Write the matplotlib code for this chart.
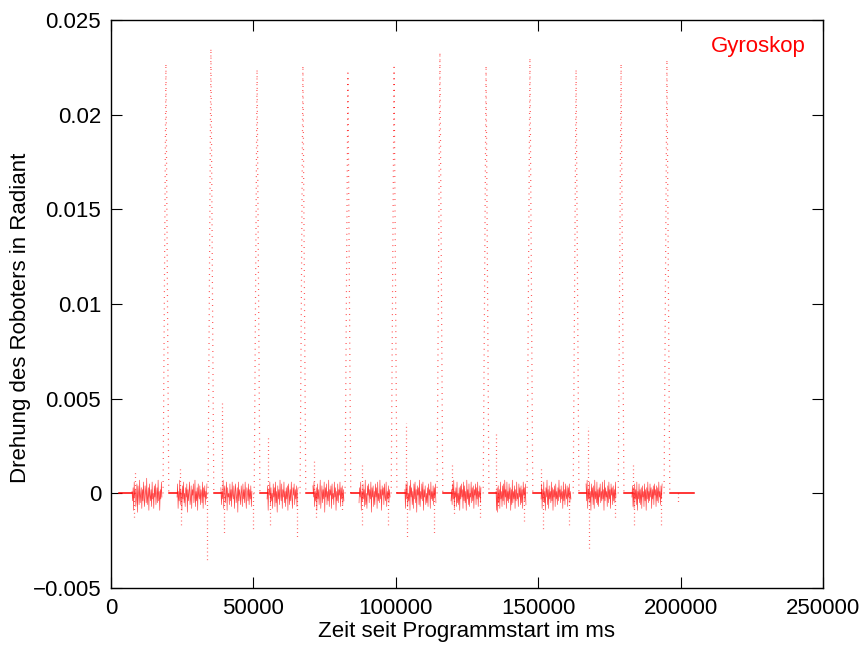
import numpy as np
import matplotlib.pyplot as plt

plt.rcParams['font.family'] = ['Liberation Sans', 'DejaVu Sans']

# grosse Drehungen: Zeitpunkt (ms) und Hoehe (rad)
spike_t = [19300, 35100, 51300, 67400, 83200, 99400, 115500, 131700, 147100, 163300, 179100, 195200]
spike_peak = [0.0227, 0.0235, 0.0224, 0.0226, 0.0222, 0.0225, 0.0233, 0.0226, 0.0230, 0.0224, 0.0227, 0.0229]
spike_half = 1000

# Abschnitte mit Rauschen (ms)
noise_start = [7400, 23200, 38600, 54800, 70900, 87100, 103200, 119400, 135200, 151000, 166800, 182900]
noise_end = [17900, 33700, 49500, 65700, 81800, 98000, 114100, 129900, 145700, 161500, 177300, 193500]
run_start = 2800
run_end = 204700

# Rauschwerte in 1e-4 rad
noise_0 = [1, -4, 3, -9, 6, -2, 2, -7, -3, 5, -10, 4, 0, -6, 7, -5, -1, 3, -8, 2, -4, 6, -3, -7, 4, 1, -5, 8,
           -6, -2, 3, -9, 5, -1, -4, 2, -7, 6, -3, 0, -8, 4, -2, 5, -6, -1, 3, -5, 7, -4, 1, -9, 2, -3, 6, -2]
noise_1 = [-2, 5, -8, 1, -4, 7, -6, 2, -1, -9, 4, -3, 6, -5, 0, -7, 3, -2, 5, -10, 2, -4, 1, 6, -6, -3, 4, -8,
           2, -1, 5, -5, -2, 7, -7, 1, -4, 3, -9, 5, -1, -3, 4, -6, 2, 0, -5, 6, -8, 3, -2, 4, -6, 1, -3, 5]
noise_2 = [3, -6, 1, -3, 7, -8, 2, 4, -5, -1, 6, -9, 3, -2, 0, -6, 5, -4, 2, -7, 6, -1, -3, 4, -8, 1, 5, -5,
           -2, 3, -10, 6, -4, 2, -1, -6, 4, 0, -7, 5, -3, 2, -5, 6, -2, -8, 3, 1, -4, 5, -6, 2, -3, 4, -7, 1]
noise_3 = [-3, 4, -9, 2, -1, 6, -6, 3, -4, 0, -8, 5, -2, 3, -7, 6, -5, 1, -10, 4, -3, 2, -6, 7, -1, -4, 5, -8,
           2, -2, 6, -5, 1, -7, 3, -3, 4, -9, 5, 0, -6, 2, -4, 6, -2, -8, 3, -1, 5, -6, 2, -3, 4, -7, 1, 3]
noise_4 = [4, -2, 6, -7, 1, -4, 3, -9, 5, -3, 2, -6, 0, 7, -8, -1, 4, -5, 2, -3, 6, -10, 3, -2, 5, -6, 1, -4,
           7, -7, 2, -1, 4, -8, 5, -3, 0, -6, 6, -2, 3, -9, 1, -4, 5, -5, 2, -1, 6, -7, 3, -3, 4, -6, 2, -4]
noise_5 = [-5, 3, -2, 6, -9, 1, -4, 5, -3, 2, -7, 7, -6, 0, -8, 4, -1, 5, -5, 2, -3, 6, -10, 3, -2, 4, -7, 1,
           -6, 5, -2, 3, -8, 6, -4, 0, -5, 7, -3, 2, -9, 4, -1, 3, -6, 5, -2, -4, 6, -7, 1, -3, 4, -5, 2, -2]
noise_6 = [2, -8, 5, -3, 6, -7, 0, -4, 4, -9, 7, -2, 3, -6, 1, -8, 5, -3, 6, -5, 2, -10, 4, -1, 3, -6, 7, -7,
           1, -3, 5, -4, 6, -9, 2, -2, 4, -6, 0, -5, 3, -7, 5, -1, 2, -8, 6, -3, 1, -4, 4, -6, 3, -2, 5, -5]
noise_7 = [-4, 2, -6, 5, -3, 7, -8, 1, -2, 3, -7, 6, -5, 0, -6, 3, -9, 4, -3, 5, -2, 2, -8, 6, -4, 4, -5, 1,
           -9, 7, -3, 2, -6, 5, -7, 0, -2, 6, -5, 3, -4, 4, -8, 2, -1, 5, -6, 3, -3, 6, -7, 1, -2, 4, -5, 3]
noise_8 = [1, -9, 3, -10, 4, -5, 2, -8, 6, -3, 1, -7, 4, -4, 5, -6, 7, -2, 2, -8, 6, -4, 1, -5, 5, -3, 3, -9,
           2, -6, 7, -5, 1, -3, 4, -8, 2, -4, 6, -3, 0, -7, 5, -2, 3, -6, 4, -5, 2, -8, 6, -1, 3, -4, 5, -6]
noise_9 = [-3, 5, -8, 2, -4, 6, -5, 1, -9, 3, -2, 7, -6, 2, -8, 4, -3, 1, -5, 6, -4, 3, -9, 2, -2, 4, -7, 5,
           -3, 1, -6, 3, -4, 7, -2, 2, -5, 4, -3, 1, -8, 6, -4, 2, -6, 5, -1, -3, 4, -7, 3, -2, 5, -5, 1, -3]
noise_10 = [5, -4, 7, -8, 2, -3, 6, -5, 1, -9, 5, -2, 3, -6, 4, -8, 7, -3, 1, -5, 6, -6, 2, -7, 3, -2, 5, -5,
            1, -4, 6, -3, 2, -9, 7, -4, 3, -2, 1, -7, 4, -5, 6, -3, 2, -8, 5, -1, 3, -6, 4, -4, 2, -5, 6, -2]
noise_11 = [-2, 4, -7, 3, -8, 5, -3, 2, -6, 6, -9, 1, -3, 5, -5, 2, -6, 3, -8, 4, -2, 1, -7, 5, -4, 2, -9, 3,
            -3, 6, -5, 1, -4, 5, -2, 3, -8, 2, -3, 4, -6, 5, -1, 2, -7, 4, -4, 3, -5, 6, -2, 1, -6, 4, -3, 5]
noise_vals = [noise_0, noise_1, noise_2, noise_3, noise_4, noise_5,
              noise_6, noise_7, noise_8, noise_9, noise_10, noise_11]

# einzelne Ausreisser (ms, rad)
exc_t = [8400, 8100, 24200, 24600, 33700, 39000, 39700, 49900, 55100, 55800, 65300,
         71300, 72000, 81100, 88100, 88300, 97300, 103600, 103900, 113400, 119700,
         120400, 129600, 135200, 135900, 145000, 151000, 151700, 160800, 167500,
         167700, 177000, 183300, 183600, 193100, 199100]
exc_v = [0.0012, -0.0013, 0.0014, -0.0017, -0.0036, 0.0049, -0.0022, -0.0020, 0.0030,
         -0.0017, -0.0023, 0.0018, -0.0014, -0.0010, 0.0015, -0.0018, -0.0018, 0.0037,
         -0.0024, -0.0021, 0.0016, -0.0012, -0.0013, 0.0033, -0.0008, -0.0016, 0.0014,
         -0.0020, -0.0017, 0.0035, -0.0030, -0.0013, 0.0016, -0.0018, -0.0018, -0.0005]

red = '#ff0000'

fig = plt.figure(figsize=(8.6, 6.48), dpi=100)
ax = fig.add_axes([0.129, 0.0926, 0.828, 0.8765])

# ruhige Phasen
flat_start = [run_start] + [s + spike_half for s in spike_t]
flat_end = noise_start + [run_end]
for a, b in zip(flat_start, flat_end):
    ax.plot([a, b], [0, 0], color=red, lw=1.1)

# Rauschen
for a, b, vals in zip(noise_start, noise_end, noise_vals):
    tt = np.linspace(a, b, len(vals))
    ax.plot(tt, np.array(vals) * 1e-4, color=red, lw=0.45, alpha=0.75)

# Ausreisser als gepunktete Saeulen
for t, v in zip(exc_t, exc_v):
    ax.plot([t, t], [0, v], color=red, lw=0.9, dashes=(0.6, 2.5), alpha=0.8)

# grosse Drehungen
for s, p in zip(spike_t, spike_peak):
    ax.plot([s - spike_half, s, s + spike_half], [0, p, 0], color=red,
            lw=0.9, dashes=(0.6, 4.0), alpha=0.85)

ax.set_xlim(0, 250000)
ax.set_ylim(-0.005, 0.025)
ax.set_xticks([0, 50000, 100000, 150000, 200000, 250000])
ax.set_yticks([-0.005, 0, 0.005, 0.01, 0.015, 0.02, 0.025])
ax.set_yticklabels(['\u22120.005', '0', '0.005', '0.01', '0.015', '0.02', '0.025'])
ax.tick_params(direction='in', top=True, right=True, length=8, width=0.8,
               labelsize=16, pad=7)
for sp in ax.spines.values():
    sp.set_linewidth(1.0)

ax.set_xlabel('Zeit seit Programmstart im ms', fontsize=16, labelpad=2)
ax.set_ylabel('Drehung des Roboters in Radiant', fontsize=16)
ax.yaxis.set_label_coords(-0.112, 0.475)
ax.text(0.976, 0.954, 'Gyroskop', color=red, fontsize=16, ha='right', va='center',
        transform=ax.transAxes)

fig.savefig('out.png', dpi=100)
